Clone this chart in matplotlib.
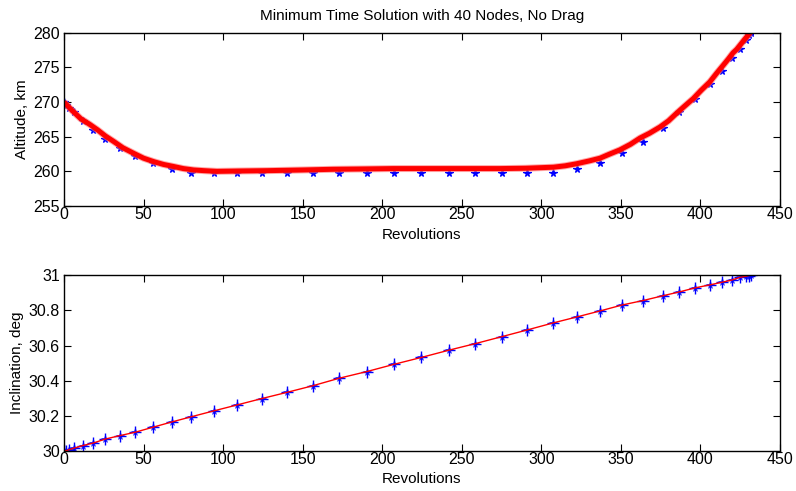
import matplotlib
matplotlib.use('Agg')
import matplotlib.pyplot as plt

plt.rcParams['font.family'] = ['Liberation Sans', 'DejaVu Sans']

# node locations [rev]
nodes = [0.0, 1.4, 3.0, 6.6, 11.8, 18.3, 26.0, 34.9, 44.9, 55.8,
         67.7, 80.1, 94.5, 108.8, 124.2, 139.9, 156.3, 173.0, 190.4, 207.4,
         224.5, 241.7, 258.6, 275.4, 291.3, 307.6, 322.5, 337.0, 351.0, 364.0,
         376.3, 386.8, 396.6, 405.9, 413.6, 419.9, 424.9, 428.7, 430.3, 431.7]

# altitude at nodes [km]
alt_nodes = [270.0, 269.6, 269.2, 268.5, 267.3, 266.0, 264.7, 263.4, 262.2, 261.2,
             260.4, 259.8, 259.8, 259.8, 259.8, 259.8, 259.8, 259.8, 259.8, 259.8,
             259.8, 259.8, 259.8, 259.8, 259.8, 259.8, 260.3, 261.2, 262.7, 264.3,
             266.2, 268.5, 270.5, 272.6, 274.5, 276.3, 277.7, 279.0, 279.6, 280.0]

# inclination at nodes [deg]
inc_nodes = [30.000, 30.002, 30.007, 30.017, 30.031, 30.045, 30.068, 30.087, 30.107, 30.135,
             30.165, 30.195, 30.229, 30.262, 30.298, 30.333, 30.371, 30.414, 30.452, 30.493,
             30.532, 30.573, 30.611, 30.651, 30.689, 30.729, 30.763, 30.797, 30.831, 30.856,
             30.883, 30.905, 30.928, 30.945, 30.960, 30.973, 30.988, 30.994, 30.998, 31.000]

# propagated altitude trace [rev, km]
rev_prop = [0, 5, 10.5, 16, 21, 26, 31.3, 37, 43.8, 50, 56.4, 62.5, 68.9, 75, 81.5,
            88, 96.1, 110, 127.5, 150, 169.3, 190, 207, 232, 250, 274, 290, 307.6,
            315, 322.2, 330, 336.9, 343, 349.4, 356, 362, 368, 374.6, 380, 385.1,
            390, 395.5, 400.5, 405.9, 410, 414.3, 417.5, 420.5, 422.8, 424.9, 428, 431.3]
alt_prop = [270.0, 268.8, 267.6, 266.8, 266.0, 265.1, 264.3, 263.4, 262.6, 261.9,
            261.4, 261.0, 260.7, 260.4, 260.2, 260.1, 260.0, 260.05, 260.1, 260.2,
            260.3, 260.35, 260.4, 260.4, 260.4, 260.4, 260.45, 260.6, 260.8, 261.1,
            261.5, 261.9, 262.5, 263.1, 263.9, 264.8, 265.5, 266.4, 267.3, 268.4,
            269.4, 270.5, 271.7, 272.9, 274.1, 275.3, 276.2, 277.1, 277.6, 278.2,
            279.1, 280.0]

fig = plt.figure(figsize=(7.96, 4.91), dpi=100)
ax1 = fig.add_axes([0.0804, 0.5804, 0.8995, 0.353])
ax2 = fig.add_axes([0.0804, 0.0815, 0.8995, 0.358])

ax1.plot(nodes, alt_nodes, 'b*', markersize=5.5, markeredgewidth=0.9)
ax1.plot(rev_prop, alt_prop, color='#ff7070', linewidth=5.0, solid_capstyle='butt',
         solid_joinstyle='round', alpha=0.6)
ax1.plot(rev_prop, alt_prop, color='red', linewidth=3.6, solid_capstyle='butt',
         solid_joinstyle='round')
ax1.set_xlim(0, 450)
ax1.set_ylim(255, 280)
ax1.set_yticks([255, 260, 265, 270, 275, 280])
ax1.set_xlabel('Revolutions', fontsize=11, labelpad=4)
ax1.set_ylabel('Altitude, km', fontsize=11, labelpad=3)
ax1.set_title('Minimum Time Solution with 40 Nodes, No Drag', fontsize=11, pad=9)

ax2.plot(nodes, inc_nodes, 'b+', markersize=8, markeredgewidth=1.0)
ax2.plot(nodes, inc_nodes, 'b*', markersize=5.5, markeredgewidth=0.6, alpha=0.7)
ax2.plot(nodes, inc_nodes, color='red', linewidth=1)
ax2.set_xlim(0, 450)
ax2.set_ylim(30, 31)
ax2.set_yticks([30, 30.2, 30.4, 30.6, 30.8, 31])
ax2.set_yticklabels(['30', '30.2', '30.4', '30.6', '30.8', '31'])
ax2.set_xlabel('Revolutions', fontsize=11, labelpad=3)
ax2.set_ylabel('Inclination, deg', fontsize=11, labelpad=3)

for ax in (ax1, ax2):
    ax.tick_params(direction='in', top=True, right=True, length=5, width=0.8,
                   labelsize=11.5)
    ax.tick_params(axis='x', pad=1)
    ax.tick_params(axis='y', pad=3)
    for s in ax.spines.values():
        s.set_linewidth(1.0)

fig.savefig('out.png', dpi=100)
